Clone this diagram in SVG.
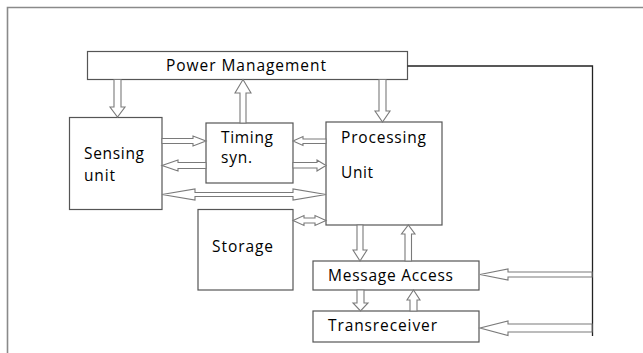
<svg xmlns="http://www.w3.org/2000/svg" width="643" height="353" viewBox="0 0 643 353">
<style>
.box{fill:#fff;stroke:#555;stroke-width:1.2}
.arr{fill:#fff;stroke:#7a7a7a;stroke-width:1.1;stroke-linejoin:miter}
.lbl{font-family:"Open Sans","Liberation Sans",sans-serif;font-size:15.5px;fill:#000}
</style>
<rect width="643" height="353" fill="#fff"/>
<path d="M7.5,353 V7.5 H643" fill="none" stroke="#8a8a8a" stroke-width="1.6"/>
<g id="power"><rect class="box" x="87.5" y="51.5" width="320" height="28"/><text class="lbl" x="166" y="71" textLength="160" lengthAdjust="spacing">Power Management</text></g>
<g id="sensing"><rect class="box" x="69.5" y="117.5" width="92.5" height="92"/><text class="lbl" x="84" y="159" textLength="60" lengthAdjust="spacing">Sensing</text><text class="lbl" x="84" y="181" textLength="31" lengthAdjust="spacing">unit</text></g>
<g id="timing"><rect class="box" x="206" y="123" width="87" height="60"/><text class="lbl" x="221" y="143" textLength="52" lengthAdjust="spacing">Timing</text><text class="lbl" x="221" y="163" textLength="31" lengthAdjust="spacing">syn.</text></g>
<g id="processing"><rect class="box" x="326" y="122" width="116" height="103"/><text class="lbl" x="341" y="143" textLength="85" lengthAdjust="spacing">Processing</text><text class="lbl" x="341" y="178" textLength="32" lengthAdjust="spacing">Unit</text></g>
<g id="storage"><rect class="box" x="198" y="209.5" width="95" height="80.5"/><text class="lbl" x="212" y="252" textLength="61" lengthAdjust="spacing">Storage</text></g>
<g id="message"><rect class="box" x="313" y="261" width="166" height="29"/><text class="lbl" x="328" y="281" textLength="125" lengthAdjust="spacing">Message Access</text></g>
<g id="trans"><rect class="box" x="313" y="311" width="166" height="31"/><text class="lbl" x="328" y="331" textLength="109" lengthAdjust="spacing">Transreceiver</text></g>
<g id="connectors">
<path d="M407.5,66 H592.5 V336" fill="none" stroke="#222" stroke-width="1.3"/>
<polygon class="arr" points="114,79.5 121,79.5 121,107 125,107 117.5,117 110,107 114,107"/>
<polygon class="arr" points="379,79.5 386,79.5 386,111 390,111 382.5,122 375,111 379,111"/>
<polygon class="arr" points="240,123 246,123 246,93 251,93 243,79.5 235,93 240,93"/>
<polygon class="arr" points="162,138.5 193,138.5 193,136 206,141 193,146 193,143.5 162,143.5"/>
<polygon class="arr" points="206,162.5 178,162.5 178,160 162,165.5 178,171 178,168.5 206,168.5"/>
<polygon class="arr" points="326,139 303,139 303,136.5 293,141 303,145.5 303,143.5 326,143.5"/>
<polygon class="arr" points="293,162.5 317,162.5 317,160 326,165.5 317,171 317,168 293,168"/>
<polygon class="arr" points="162,194.5 195,189 195,192.5 293,192.5 293,189 326,194.5 293,200 293,196.5 195,196.5 195,200"/>
<polygon class="arr" points="293,220.5 304,215.5 304,218 315,218 315,215.5 326,220.5 315,225.5 315,223 304,223 304,225.5"/>
<polygon class="arr" points="357,225 363,225 363,250 367,250 360,261 353,250 357,250"/>
<polygon class="arr" points="405,261 411.5,261 411.5,234 415,234 408.3,225 401.5,234 405,234"/>
<polygon class="arr" points="357,290 364,290 364,303 368,303 360.5,311 353,303 357,303"/>
<polygon class="arr" points="410,311 417,311 417,300 420,300 413.5,290 407,300 410,300"/>
<polygon class="arr" points="592,272 508,272 508,269 480,274.5 508,280 508,277 592,277"/>
<polygon class="arr" points="592,324 508,324 508,321 480,328 508,335.5 508,332 592,332"/>
</g>
</svg>
